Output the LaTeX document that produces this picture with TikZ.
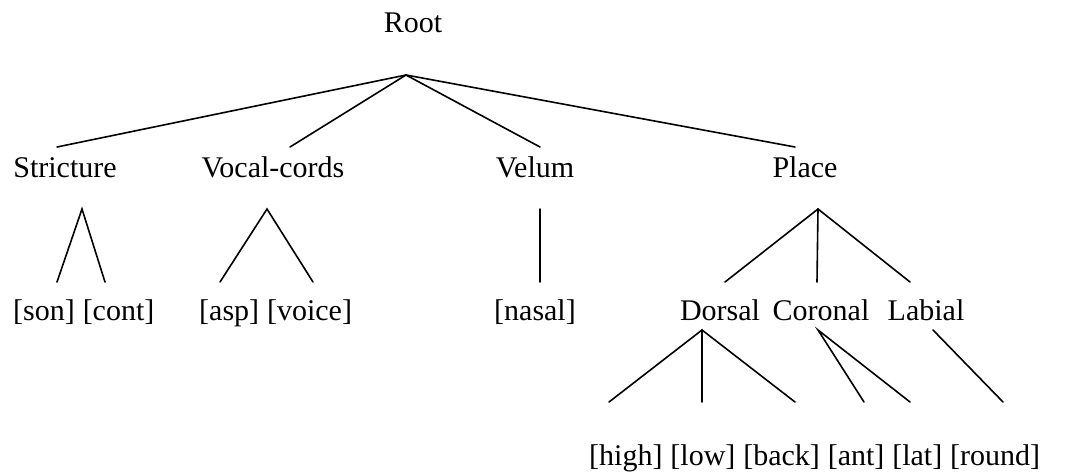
\documentclass[tikz,border=0pt]{standalone}
\usepackage{fontspec}
\setmainfont{Liberation Serif}
\usetikzlibrary{calc,positioning}
\tikzset{
  branch/.style={draw=black, line width=1.6pt, line cap=round},
  lab/.style={font=\fontsize{30}{36}\selectfont, inner sep=0pt, anchor=base},
  feat/.style={lab, anchor=base west}
}

\begin{document}
\begin{tikzpicture}[x=1pt,y=-1pt]
  \useasboundingbox (0,0) rectangle (1082,474);
  % root and its four daughters
  \node[lab] (root) at (413,32) {Root};
  \node[lab] (str) at (65,177) {Stricture};
  \node[lab] (voc) at (273,177) {Vocal-cords};
  \node[lab] (vel) at (535,177) {Velum};
  \node[lab] (pla) at (805,177) {Place};
  \coordinate (root-b) at (406,75);
  \coordinate (str-t) at (57,147);
  \coordinate (voc-t) at (290,147);
  \coordinate (vel-t) at (540,147);
  \coordinate (pla-t) at (795,147);
  \draw[branch] (str-t) -- (root-b) -- (pla-t);
  \draw[branch] (voc-t) -- (root-b) -- (vel-t);
  % second tier
  \node[feat] (son) at (13,320) {[son]};
  \node[feat, base right=7.5pt of son] (cont) {[cont]};
  \node[feat] (asp) at (199,320) {[asp]};
  \node[feat, base right=7.5pt of asp] (voice) {[voice]};
  \node[lab] (nasal) at (535,320) {[nasal]};
  \node[lab] (dor) at (720,320) {Dorsal};
  \node[lab] (cor) at (821,320) {Coronal};
  \node[lab] (lbl) at (926,320) {Labial};
  \coordinate (str-b) at (82,209);
  \coordinate (son-t) at (57,282);
  \coordinate (cont-t) at (105,282);
  \coordinate (voc-b) at (267,209);
  \coordinate (asp-t) at (220,282);
  \coordinate (voice-t) at (313,282);
  \coordinate (vel-b) at (540,209);
  \coordinate (nasal-t) at (540,282);
  \coordinate (pla-b) at (818,209);
  \coordinate (dor-t) at (725,282);
  \coordinate (cor-t) at (817,282);
  \coordinate (lbl-t) at (910,282);
  \draw[branch] (son-t) -- (str-b) -- (cont-t);
  \draw[branch] (asp-t) -- (voc-b) -- (voice-t);
  \draw[branch] (vel-b) -- (nasal-t);
  \draw[branch] (dor-t) -- (pla-b) -- (lbl-t);
  \draw[branch] (pla-b) -- (cor-t);
  % place features
  \node[feat] (high) at (589,465) {[high]};
  \node[feat, base right=7.5pt of high] (low) {[low]};
  \node[feat, base right=7.5pt of low] (back) {[back]};
  \node[feat, base right=7.5pt of back] (ant) {[ant]};
  \node[feat, base right=7.5pt of ant] (lat) {[lat]};
  \node[feat, base right=7.5pt of lat] (round) {[round]};
  \coordinate (dor-b) at (702,330);
  \coordinate (high-t) at (609,402);
  \coordinate (low-t) at (702,402);
  \coordinate (back-t) at (795,402);
  \coordinate (cor-b) at (818,330);
  \coordinate (ant-t) at (864,402);
  \coordinate (lat-t) at (910,402);
  \coordinate (lbl-b) at (933,330);
  \coordinate (round-t) at (1003,402);
  \draw[branch] (high-t) -- (dor-b) -- (back-t);
  \draw[branch] (dor-b) -- (low-t);
  \draw[branch] (ant-t) -- (cor-b) -- (lat-t);
  \draw[branch] (lbl-b) -- (round-t);
\end{tikzpicture}
\end{document}
